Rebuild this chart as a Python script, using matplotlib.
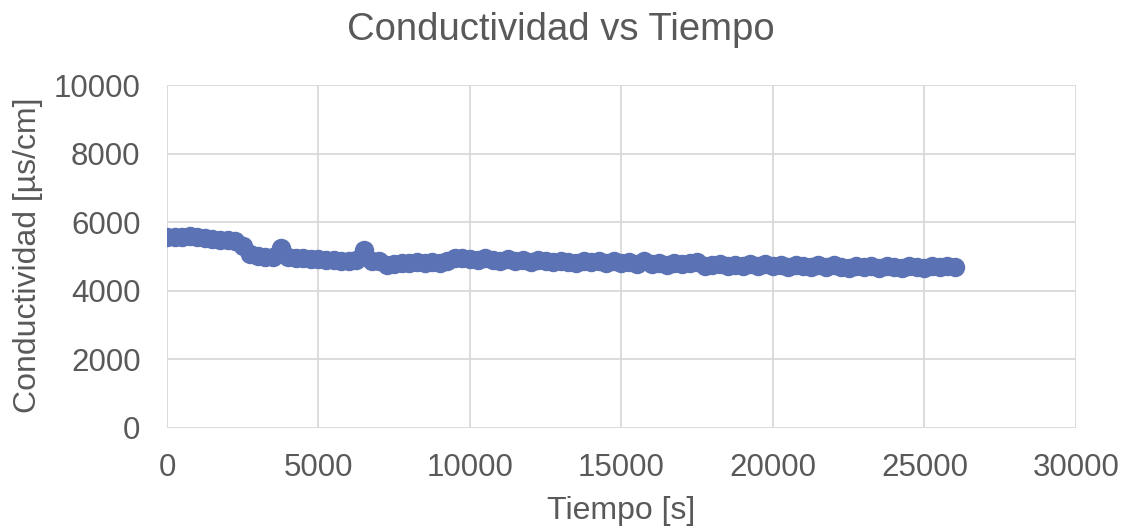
import numpy as np
import matplotlib.pyplot as plt

# Tiempo (s) und Leitfähigkeit (µs/cm)
tiempo = np.arange(0, 26001, 250)
conductividad = np.array([
    5560, 5570, 5580, 5600, 5570, 5540, 5510, 5490, 5470, 5450,
    5300, 5080, 5010, 4990, 4980, 5250, 4990, 4970, 4950, 4940,
    4930, 4910, 4900, 4880, 4870, 4890, 5180, 4880, 4860, 4740,
    4780, 4800, 4820, 4830, 4810, 4830, 4800, 4870, 4950, 4960,
    4940, 4900, 4960, 4890, 4880, 4920, 4860, 4900, 4850, 4910,
    4870, 4830, 4880, 4840, 4810, 4870, 4830, 4880, 4820, 4860,
    4810, 4850, 4790, 4870, 4780, 4820, 4760, 4810, 4770, 4820,
    4840, 4710, 4750, 4770, 4710, 4760, 4720, 4770, 4730, 4780,
    4720, 4760, 4700, 4750, 4710, 4690, 4740, 4700, 4750, 4690,
    4660, 4730, 4680, 4720, 4670, 4730, 4690, 4670, 4720, 4680,
    4660, 4710, 4680, 4720, 4690])

x_ticks = [0, 5000, 10000, 15000, 20000, 25000, 30000]
y_ticks = [0, 2000, 4000, 6000, 8000, 10000]

plt.rcParams['font.family'] = ['Liberation Sans', 'DejaVu Sans']
gris = '#595959'

fig = plt.figure(figsize=(11.23, 5.27), dpi=100)
ax = fig.add_axes([0.1487, 0.1879, 0.8094, 0.6508])

ax.plot(tiempo, conductividad, 'o', color='#5B72B4', markersize=14,
        markeredgewidth=0, zorder=3)

ax.set_xlim(0, 30000)
ax.set_ylim(0, 10000)
ax.set_xticks(x_ticks)
ax.set_yticks(y_ticks)
ax.grid(True, color='#d9d9d9', linewidth=1.3)
ax.set_axisbelow(True)
for s in ax.spines.values():
    s.set_visible(False)
ax.tick_params(length=0, labelcolor=gris, labelsize=22.5)
ax.tick_params(axis='x', pad=18)
ax.tick_params(axis='y', pad=19)

# Achsentitel wie im Original positioniert
fig.text(621 / 1123, 1 - 511 / 527, "Tiempo [s]", fontsize=23, color=gris,
         ha='center', va='center')
fig.text(28 / 1123, 1 - 255 / 527, "Conductividad [µs/cm]", fontsize=23,
         color=gris, rotation=90, ha='center', va='center')
fig.text(0.4996, 1 - 30 / 527, "Conductividad vs Tiempo", fontsize=27.5,
         color=gris, ha='center', va='center')

fig.savefig("out.png", dpi=100)
